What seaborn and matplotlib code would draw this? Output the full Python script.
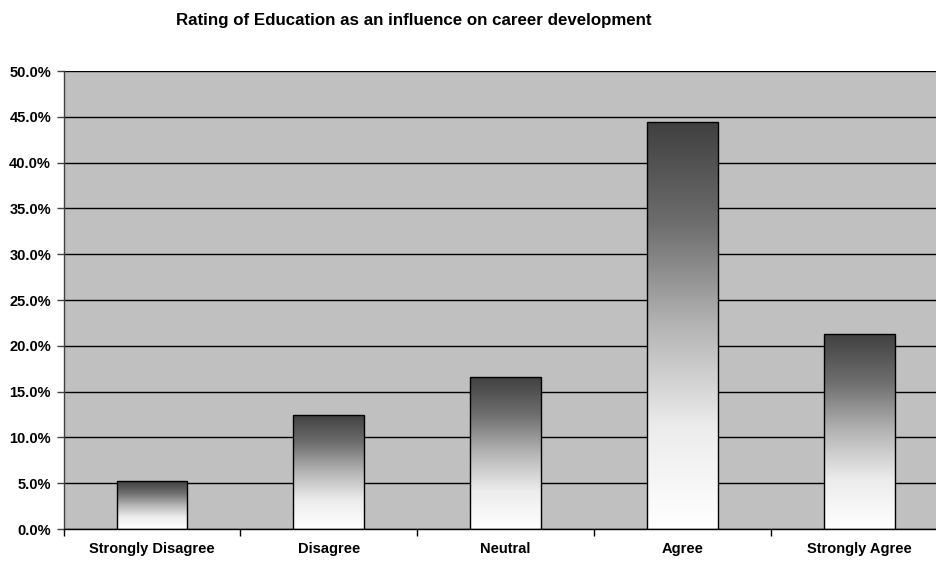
import numpy as np
import pandas as pd
import matplotlib
matplotlib.use("Agg")
import matplotlib.pyplot as plt
from matplotlib.colors import LinearSegmentedColormap
from matplotlib.ticker import FuncFormatter, MultipleLocator
import seaborn as sns

categories = ["Strongly Disagree", "Disagree", "Neutral", "Agree", "Strongly Agree"]
percent = [5.2, 12.5, 16.6, 44.4, 21.3]
title = "Rating of Education as an influence on career development"

df = pd.DataFrame({"rating": categories, "percent": percent})

sns.set_theme(style="white")
plt.rcParams["font.family"] = ["Liberation Sans", "DejaVu Sans"]
plt.rcParams["text.color"] = "black"
plt.rcParams["xtick.color"] = "black"
plt.rcParams["ytick.color"] = "black"

fig = plt.figure(figsize=(9.36, 5.61), dpi=100)
ax = fig.add_axes([0.0679, 0.0570, 0.9445, 0.8164])

sns.barplot(data=df, x="rating", y="percent", ax=ax, width=0.40,
            color="white", edgecolor="black", linewidth=1.0, zorder=3)

ax.set_facecolor("#c0c0c0")
ax.yaxis.set_major_locator(MultipleLocator(5))
ax.yaxis.set_major_formatter(FuncFormatter(lambda v, p: f"{v:.1f}%"))
ax.grid(axis="y", color="black", linewidth=1.0, zorder=1)
ax.set_axisbelow(True)

# Vertical dark-to-white shading inside each bar
shade = LinearSegmentedColormap.from_list(
    "shade",
    [(0.0, "#404040"), (0.25, "#6e6e6e"), (0.5, "#b4b4b4"),
     (0.75, "#ececec"), (1.0, "#ffffff")])
grad = np.linspace(0, 1, 256).reshape(-1, 1)
for patch in ax.patches:
    x0, y0 = patch.get_x(), patch.get_y()
    w, h = patch.get_width(), patch.get_height()
    im = ax.imshow(grad, cmap=shade, aspect="auto",
                   extent=(x0, x0 + w, y0, y0 + h), origin="upper",
                   zorder=2.5, interpolation="bilinear")
    im.set_clip_path(patch)
    patch.set_facecolor("none")
ax.set_xlim(-0.5, len(categories) - 0.5)
ax.set_ylim(0, 50)

# Category boundary tick marks on the x axis
ax.set_xticks(np.arange(len(categories)))
ax.set_xticklabels(categories, fontsize=10.5, fontweight="bold")
ax.set_xticks(np.arange(len(categories) + 1) - 0.5, minor=True)
ax.tick_params(axis="x", which="major", length=0, pad=9.5)
ax.tick_params(axis="x", which="minor", length=5, width=1, color="black",
               direction="out", bottom=True)
ax.tick_params(axis="y", length=5, width=1, color="#404040", direction="out",
               left=True, labelsize=10.5, pad=4)
for lab in ax.get_yticklabels():
    lab.set_fontweight("bold")

ax.set_xlabel("")
ax.set_ylabel("")
for s in ["top", "right"]:
    ax.spines[s].set_visible(False)
ax.spines["left"].set_color("#404040")
ax.spines["left"].set_linewidth(1.0)
ax.spines["bottom"].set_color("black")
ax.spines["bottom"].set_linewidth(1.0)

fig.text(0.442, 0.963, title, ha="center", va="center",
         fontsize=12.2, fontweight="bold", color="black")

fig.savefig("out.png", dpi=100, facecolor="white")
